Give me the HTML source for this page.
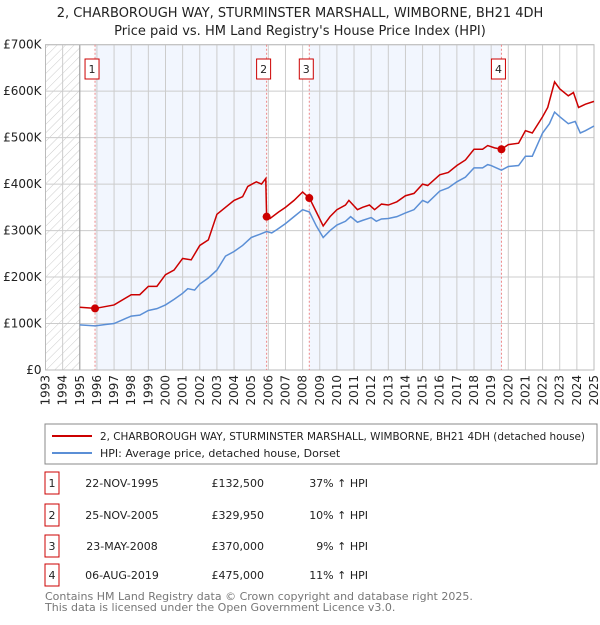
<!DOCTYPE html>
<html><head><meta charset="utf-8"><style>
body{margin:0;background:#fff;font-family:"Liberation Sans","DejaVu Sans",sans-serif}
svg text{font-family:"DejaVu Sans","Liberation Sans",sans-serif}
</style></head><body>
<svg id="chart" width="600" height="620" xmlns="http://www.w3.org/2000/svg">
<defs><pattern id="hatch" width="6" height="6" patternUnits="userSpaceOnUse" patternTransform="rotate(45)"><line x1="0" y1="0" x2="0" y2="6" stroke="#ccc" stroke-width="1"/></pattern></defs>
<text x="300" y="17" text-anchor="middle" font-size="13" fill="#222">2, CHARBOROUGH WAY, STURMINSTER MARSHALL, WIMBORNE, BH21 4DH</text>
<text x="300" y="35" text-anchor="middle" font-size="13" fill="#222">Price paid vs. HM Land Registry's House Price Index (HPI)</text>
<g id="plot"></g>
<rect x="45" y="424" width="552" height="40" fill="#fff" stroke="#888"/>
<line x1="52" y1="436" x2="92" y2="436" stroke="#cc0000" stroke-width="2"/>
<text x="100" y="440" font-size="11" fill="#222" textLength="485" lengthAdjust="spacingAndGlyphs">2, CHARBOROUGH WAY, STURMINSTER MARSHALL, WIMBORNE, BH21 4DH (detached house)</text>
<line x1="52" y1="453" x2="92" y2="453" stroke="#5b8fd6" stroke-width="2"/>
<text x="100" y="457" font-size="11" fill="#222">HPI: Average price, detached house, Dorset</text>
<g id="table" font-size="11" fill="#222"></g>
<text x="45" y="600" font-size="11" fill="#777">Contains HM Land Registry data © Crown copyright and database right 2025.</text>
<text x="45" y="611" font-size="11" fill="#777">This data is licensed under the Open Government Licence v3.0.</text>
</svg>
<script>
const hpiYears=[1995.0,1995.9,1996.5,1997,1997.5,1998,1998.5,1999,1999.5,2000,2000.5,2001,2001.3,2001.7,2002,2002.5,2003,2003.5,2004,2004.5,2005,2005.5,2005.9,2006.2,2006.5,2007,2007.5,2008,2008.4,2008.8,2009.2,2009.6,2010,2010.5,2010.8,2011.2,2011.5,2012,2012.3,2012.6,2013,2013.5,2014,2014.5,2015,2015.3,2016,2016.5,2017,2017.5,2018,2018.5,2018.8,2019,2019.6,2020,2020.6,2021,2021.4,2022,2022.4,2022.7,2023,2023.5,2023.9,2024.2,2024.5,2025];
const hpiValues=[97,95,98,100,108,116,118,128,132,140,152,165,175,172,185,198,215,245,255,268,285,292,298,295,302,315,330,345,340,310,285,300,312,320,330,318,322,328,320,325,326,330,338,345,365,360,385,392,405,415,435,435,442,440,430,438,440,460,460,510,530,555,545,530,535,510,515,525];
const propYears=[1995,1995.9,1997,1998,1998.5,1999,1999.5,2000,2000.5,2001,2001.5,2002,2002.5,2003,2004,2004.5,2004.8,2005.3,2005.6,2005.85,2005.9,2006.1,2006.6,2007,2007.5,2008,2008.4,2008.8,2009.2,2009.6,2010,2010.5,2010.7,2011.2,2011.5,2011.9,2012.2,2012.6,2013,2013.5,2014,2014.5,2015,2015.3,2016,2016.5,2017,2017.5,2018,2018.5,2018.8,2019.2,2019.6,2020,2020.6,2021,2021.4,2022,2022.3,2022.7,2023,2023.5,2023.8,2024.1,2024.5,2025];
const propValues=[135,132.5,140,162,162,180,180,205,215,240,237,268,280,335,365,373,395,405,400,412,330,326,340,350,365,383,370,340,310,330,345,355,365,345,350,355,345,357,355,362,375,380,400,397,420,425,440,452,475,475,483,478,475,485,488,515,510,545,565,620,605,590,597,565,572,578];
const saleLabels=["1","2","3","4"];
const saleYears=[1995.89,2005.9,2008.39,2019.6];
const salePrices=[132.5,329.95,370,475];
const saleDates=["22-NOV-1995","25-NOV-2005","23-MAY-2008","06-AUG-2019"];
const salePriceText=["£132,500","£329,950","£370,000","£475,000"];
const saleHpiText=["37% ↑ HPI","10% ↑ HPI","9% ↑ HPI","11% ↑ HPI"];
const yTicks=[0,100,200,300,400,500,600,700];
const yTickLabels=["£0","£100K","£200K","£300K","£400K","£500K","£600K","£700K"];
const xYears=[1993,1994,1995,1996,1997,1998,1999,2000,2001,2002,2003,2004,2005,2006,2007,2008,2009,2010,2011,2012,2013,2014,2015,2016,2017,2018,2019,2020,2021,2022,2023,2024,2025];

const NS="http://www.w3.org/2000/svg";
const X0=45.5,X1=594,Y0=370,Y1=44.7;
const x=v=>X0+(v-1993)/(2025-1993)*(X1-X0);
const y=v=>Y0-v/700*(Y0-Y1);
function mk(tag,attrs,parent){const e=document.createElementNS(NS,tag);for(const k in attrs)e.setAttribute(k,attrs[k]);parent.appendChild(e);return e;}
const plot=document.getElementById('plot');
let r=mk('rect',{x:x(1993),y:Y1,width:x(1995)-x(1993),height:Y0-Y1,fill:'url(#hatch)'},plot);


r=mk('rect',{x:x(saleYears[0]),y:Y1,width:x(saleYears[1])-x(saleYears[0]),height:Y0-Y1,fill:'#f2f6fe'},plot);


r=mk('rect',{x:x(saleYears[2]),y:Y1,width:x(saleYears[3])-x(saleYears[2]),height:Y0-Y1,fill:'#f2f6fe'},plot);


xYears.forEach(v=>{
  const l=mk('line',{x1:x(v),x2:x(v),y1:Y1,y2:Y0,stroke:'#ccc','stroke-width':1},plot);
  
  
  const t=mk('text',{x:0,y:0,'font-size':12,fill:'#222','text-anchor':'end',transform:`translate(${x(v)+4},${Y0+5}) rotate(-90)`},plot);
  t.textContent=v;
  
  
});
yTicks.forEach((v,i)=>{
  const l=mk('line',{x1:X0,x2:X1,y1:y(v),y2:y(v),stroke:'#ccc','stroke-width':1},plot);
  
  
  const t=mk('text',{x:X0-4,y:y(v)+4,'font-size':12,fill:'#222','text-anchor':'end'},plot);
  t.textContent=yTickLabels[i];
  
  
});
let ax=mk('line',{x1:x(1995),x2:x(1995),y1:Y1,y2:Y0,stroke:'#999'},plot);


ax=mk('rect',{x:X0,y:Y1,width:X1-X0,height:Y0-Y1,fill:'none',stroke:'#bbb'},plot);


saleYears.forEach((v,i)=>{
  const l=mk('line',{x1:x(v),x2:x(v),y1:Y1,y2:Y0,stroke:'#e88','stroke-width':1,'stroke-dasharray':'2,2'},plot);
  
  
  const b=mk('rect',{x:x(v)-10,y:59,width:14,height:20,fill:'#fff',stroke:'#c00'},plot);
  
  
  const t=mk('text',{x:x(v)-3,y:73,'font-size':11,fill:'#222','text-anchor':'middle'},plot);
  t.textContent=saleLabels[i];
  
  
});
const hp=mk('polyline',{points:hpiYears.map((v,i)=>x(v)+','+y(hpiValues[i])).join(' '),fill:'none',stroke:'#5b8fd6','stroke-width':1.5},plot);


const pp=mk('polyline',{points:propYears.map((v,i)=>x(v)+','+y(propValues[i])).join(' '),fill:'none',stroke:'#cc0000','stroke-width':1.5},plot);


saleYears.forEach((v,i)=>{
  const c=mk('circle',{cx:x(v),cy:y(salePrices[i]),r:4,fill:'#cc0000'},plot);
  
  
});
const tb=document.getElementById('table');
const rowY=[483,515,546,575];
saleLabels.forEach((s,i)=>{
  const b=mk('rect',{x:45,y:rowY[i]-11,width:14,height:22,fill:'#fff',stroke:'#c00'},tb);
  
  
  const cells=[[52,'middle',s],[122,'middle',saleDates[i]],[264,'end',salePriceText[i]],[368,'end',saleHpiText[i]]];
  cells.forEach(c=>{
    const t=mk('text',{x:c[0],y:rowY[i]+4,'text-anchor':c[1],'font-size':11,fill:'#222'},tb);
    t.textContent=c[2];
    
    
  });
});
</script>
</body></html>
